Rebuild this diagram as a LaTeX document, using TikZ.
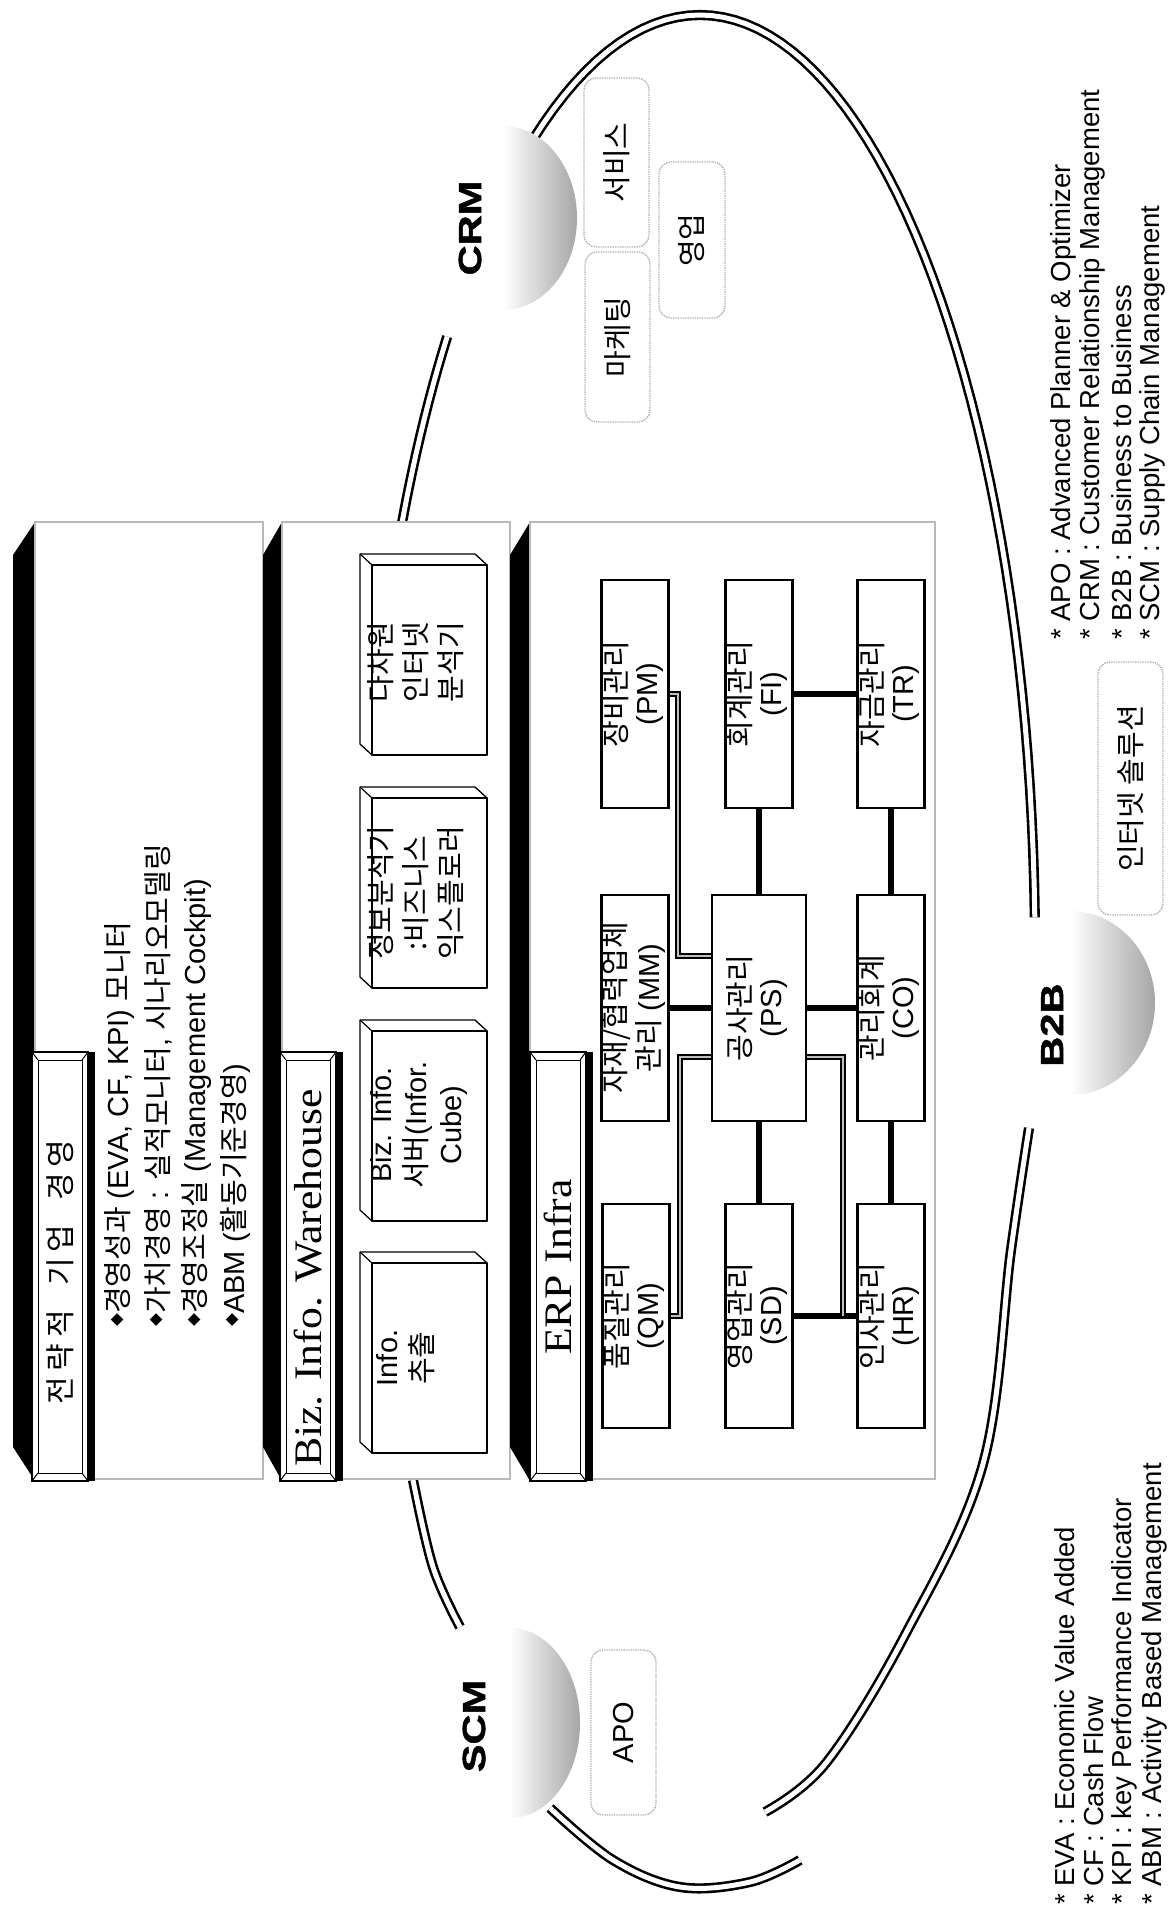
\documentclass[tikz,border=0pt]{standalone}
\usepackage{fontspec}
\usepackage{graphicx}
\setmainfont{Liberation Sans}
\newfontfamily\kr{Noto Sans CJK KR}
\newfontfamily\ser[FakeStretch=1.12]{Liberation Serif}
\newfontfamily\blk[FakeStretch=1.3,FakeBold=1.5]{Liberation Sans}
\newcommand\K[1]{{\kr #1}}
\newcommand\VT[1]{\rotatebox{90}{\begin{tabular}{@{}c@{}}#1\end{tabular}}}
\newcommand\dia{\raisebox{6.5pt}{\kr\fontsize{13}{13}\selectfont ◆}}
\begin{document}
\begin{tikzpicture}[x=1pt,y=-1pt,
  dline/.style={draw=black, double=white, line width=2.6pt, double distance=5pt},
  conn/.style={line width=6.5pt},
  dconn/.style={draw=black, double=gray!50, line width=2.2pt, double distance=2pt},
  mod/.style={draw, line width=2.5pt, fill=white, inner sep=0pt, font=\fontsize{29}{31}\selectfont},
  rbox/.style={draw=gray!60, line width=1.4pt, densely dotted, rounded corners=12pt, fill=white, inner sep=0pt, font=\fontsize{29}{31}\selectfont},
  vtxt/.style={rotate=90, inner sep=0pt},
  legend/.style={vtxt, anchor=west, font=\fontsize{27.5}{30}\selectfont},
  bigl/.style={vtxt, font=\blk\bfseries\fontsize{32}{34}\selectfont},
  bul/.style={vtxt, anchor=west, font=\fontsize{29}{31}\selectfont},
  panel/.style={draw=gray!55, line width=1.2pt, fill=white},
  box3d/.style={draw=black, line width=1.8pt, fill=white, line join=round},
  ttl/.style={draw=black, line width=1.5pt, fill=white},
  blob/.style={left color=white, right color=gray!70},
  btxt/.style={vtxt, anchor=north, align=center, font=\fontsize{29}{35}\selectfont},
  ttext/.style={vtxt, font=\ser\fontsize{39}{40}\selectfont}
]
\useasboundingbox (0,0) rectangle (1168,1921);

% ---------- big double loop ----------
\draw[dline] plot[domain=207:221, samples=12] ({700+335*cos(\x)}, {950+935*sin(\x)});
\draw[dline] plot[domain=240:358, samples=60] ({700+335*cos(\x)}, {950+935*sin(\x)});
\draw[dline] plot[smooth, tension=0.6] coordinates {(1029,1128) (1011,1250) (983,1464) (905,1635) (826,1763) (765,1812)};
\draw[dline] plot[smooth, tension=0.6] coordinates {(550,1808) (613,1860) (680,1887) (750,1882) (800,1860)};
\draw[dline] plot[smooth, tension=0.6] coordinates {(413,1480) (433,1567) (460,1627)};

% ---------- shaded half spheres ----------
\shade[blob] (503,126) arc[start angle=-90, end angle=90, x radius=74, y radius=92] -- cycle;
\shade[blob] (510,1628) arc[start angle=-90, end angle=90, x radius=70, y radius=95] -- cycle;
\shade[blob] (1070,911) arc[start angle=-90, end angle=90, x radius=85, y radius=92] -- cycle;

\node[bigl] (crm) at (470,228) {CRM};
\node[bigl] (scm) at (474,1726) {SCM};
\node[bigl] (b2b) at (1052,1025) {B2B};

% ---------- layers ----------
\foreach \xl/\xr/\xp in {13/35/263, 263/282/510, 510/530/935} {
  \fill[black] (\xl,555) -- (\xr,522) -- (\xr,1481) -- (\xl,1447) -- cycle;
  \draw[panel] (\xr,522) rectangle (\xp,1479);
}
\foreach \xa in {32,280,530} {
  \fill[black] ({\xa+56},1052) rectangle ({\xa+63},1481);
  \draw[ttl] (\xa,1052) rectangle ({\xa+56},1481);
  \draw[line width=1pt] ({\xa+6},1060) rectangle ({\xa+50},1473);
  \draw[line width=1pt] (\xa,1052) -- ({\xa+6},1060) ({\xa+56},1052) -- ({\xa+50},1060)
     (\xa,1481) -- ({\xa+6},1473) ({\xa+56},1481) -- ({\xa+50},1473);
}
\node[vtxt, font=\fontsize{30}{32}\selectfont] (t1) at (60,1272) {\K{\spaceskip=24pt 전\kern6pt 략\kern6pt 적 기\kern6pt 업 경\kern6pt 영}};
\node[ttext] (t2) at (308,1278) {Biz. Info. Warehouse};
\node[ttext] (t3) at (558,1267) {ERP Infra};

% layer 1 bullets
\node[bul] (b1) at (120,1327) {\dia\K{경영성과} (EVA, CF, KPI) \K{모니터}};
\node[bul] (b2) at (158,1327) {\dia\K{가치경영} : \K{실적모니터}, \K{시나리오모델링}};
\node[bul] (b3) at (197,1327) {\dia\K{경영조정실} (Management Cockpit)};
\node[bul] (b4) at (235,1327) {\dia ABM (\K{활동기준경영})};

% layer 2 boxes
\foreach \yt in {554,787,1020,1252} {
  \draw[box3d, line width=1.3pt] (360,\yt) -- (475,\yt) -- (487,{\yt+11}) -- (487,{\yt+201}) -- (372,{\yt+201}) -- (360,{\yt+190}) -- cycle;
  \draw[box3d] (372,{\yt+11}) rectangle (487,{\yt+201});
  \draw[line width=1.2pt] (360,\yt) -- (372,{\yt+11});
}
\node[btxt] (w1) at (376,1358) {Info.\\\K{추출}};
\node[btxt] (w2) at (370,1125) {Biz. Info.\\\K{서버}(Infor.\\Cube)};
\node[btxt] (w3) at (367,893) {\K{정보분석기}\\\K{:비즈니스}\\\K{익스플로러}};
\node[btxt] (w4) at (367,662) {\K{다차원}\\\K{인터넷}\\\K{분석기}};

% ERP modules
\node[mod, minimum width=67pt, minimum height=228pt] (PM) at (635,694) {\VT{\K{장비관리}\\(PM)}};
\node[mod, minimum width=67pt, minimum height=228pt] (FI) at (759,694) {\VT{\K{회계관리}\\(FI)}};
\node[mod, minimum width=67pt, minimum height=228pt] (TR) at (891,694) {\VT{\K{자금관리}\\(TR)}};
\node[mod, minimum width=67pt, minimum height=226pt] (MM) at (635,1008) {\VT{\K{자재/협력업체}\\\K{관리} (MM)}};
\node[mod, minimum width=94pt, minimum height=226pt] (PS) at (759,1008) {\VT{\K{공사관리}\\(PS)}};
\node[mod, minimum width=67pt, minimum height=226pt] (CO) at (891,1008) {\VT{\K{관리회계}\\(CO)}};
\node[mod, minimum width=67pt, minimum height=224pt] (QM) at (636,1316) {\VT{\K{품질관리}\\(QM)}};
\node[mod, minimum width=67pt, minimum height=224pt] (SD) at (759,1316) {\VT{\K{영업관리}\\(SD)}};
\node[mod, minimum width=67pt, minimum height=224pt] (HR) at (891,1316) {\VT{\K{인사관리}\\(HR)}};

\coordinate (ya) at (0,956);
\coordinate (yb) at (0,1057);
\coordinate (jq) at (680,1316);
\coordinate (jh) at (843,1316);
\draw[conn] (FI.east) -- (TR.west);
\draw[conn] (PS.north) -- (FI.south);
\draw[conn] (CO.north) -- (TR.south);
\draw[conn] (MM.east) -- (PS.west);
\draw[conn] (PS.east) -- (CO.west);
\draw[conn] (PS.south) -- (SD.north);
\draw[conn] (CO.south) -- (HR.north);
\draw[conn] (SD.east) -- (HR.west);
\draw[dconn] (PM.east) -| (678,956) -- (PS.west |- ya);
\draw[dconn] (PS.west |- yb) -| (jq) -- (QM.east);
\draw[dconn] (PS.east |- yb) -| (jh);

% ---------- rounded boxes ----------
\node[rbox, minimum width=65pt, minimum height=169pt] (srv) at (616.5,162.5) {\rotatebox{90}{\K{서비스}}};
\node[rbox, minimum width=65pt, minimum height=170pt] (mkt) at (617.5,337) {\rotatebox{90}{\K{마케팅}}};
\node[rbox, minimum width=66pt, minimum height=156pt] (sal) at (692,240) {\rotatebox{90}{\K{영업}}};
\node[rbox, minimum width=65pt, minimum height=165pt] (apo) at (623.5,1732.5) {\rotatebox{90}{APO}};
\node[rbox, minimum width=65pt, minimum height=253pt] (net) at (1130.5,788.5) {\rotatebox{90}{\K{인터넷 솔루션}}};

% ---------- legends ----------
\node[legend] (r1) at (1063,640) {* APO : Advanced Planner \& Optimizer};
\node[legend] (r2) at (1092,640) {* CRM : Customer Relationship Management};
\node[legend] (r3) at (1122,640) {* B2B : Business to Business};
\node[legend] (r4) at (1152,640) {* SCM : Supply Chain Management};
\node[legend] (l1) at (1065,1905) {* EVA : Economic Value Added};
\node[legend] (l2) at (1094,1905) {* CF : Cash Flow};
\node[legend] (l3) at (1124,1905) {* KPI : key Performance Indicator};
\node[legend] (l4) at (1154,1905) {* ABM : Activity Based Management};
\end{tikzpicture}
\end{document}
